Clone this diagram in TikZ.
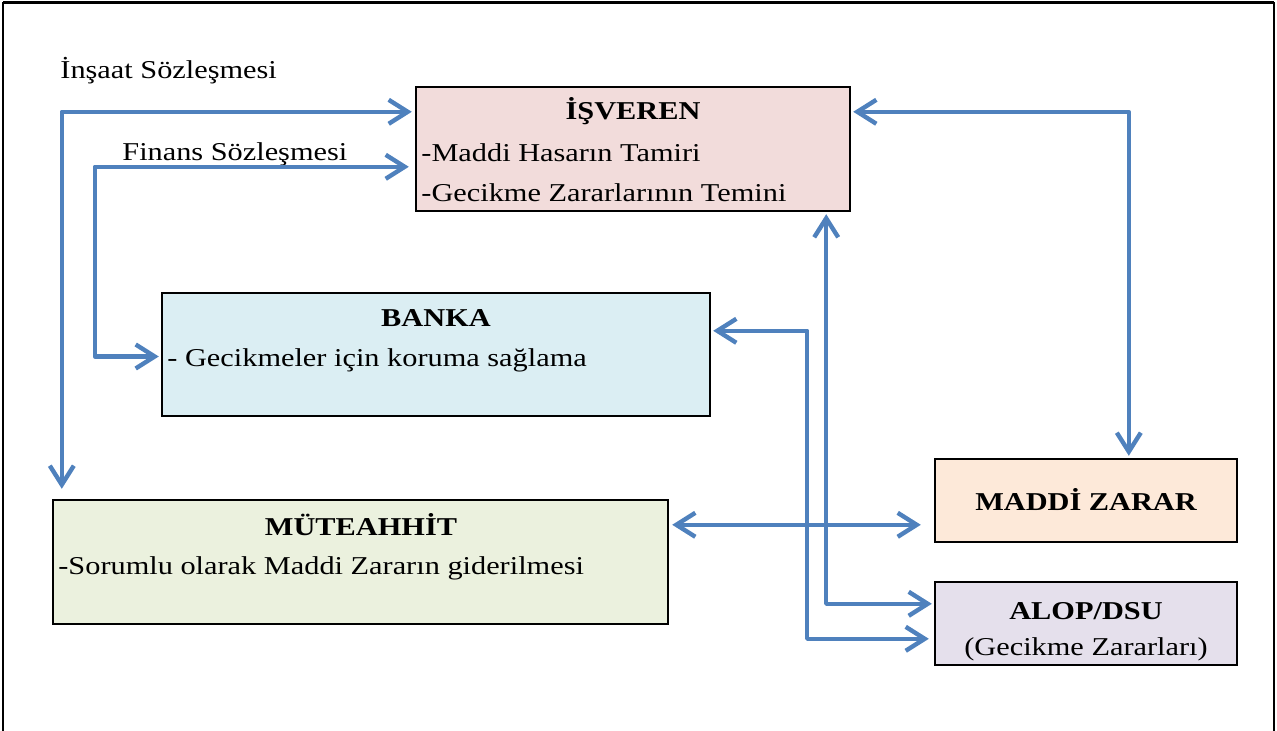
\documentclass[tikz,border=0pt]{standalone}
\usepackage{fontspec}
\setmainfont{Liberation Serif}[FakeStretch=1.18]
\usetikzlibrary{arrows.meta,calc}
\definecolor{flowblue}{HTML}{4F81BD}
\definecolor{isvfill}{HTML}{F2DCDB}
\definecolor{bankfill}{HTML}{DBEEF3}
\definecolor{mutfill}{HTML}{EBF1DE}
\definecolor{zararfill}{HTML}{FDE9D9}
\definecolor{alopfill}{HTML}{E5E0EC}
\begin{document}
\begin{tikzpicture}[x=0.5pt, y=-0.5pt,
        box/.style={draw, line width=1.2pt, inner sep=0pt},
        barb/.tip={Straight Barb[length=9.5pt, width=12pt]},
        flow/.style={flowblue, line width=2.2pt, line join=round, barb-barb},
        txt/.style={anchor=base west, inner sep=0pt, font=\fontsize{12.85}{15}\selectfont},
        ttl/.style={anchor=base, inner sep=0pt, font=\fontsize{12.85}{15}\selectfont\bfseries}]
    \useasboundingbox (0,0) rectangle (1277,731);
    \draw[line width=0.6pt] (3,731) -- (3,3) -- (1274,3) -- (1274,731);
    \draw[line width=1.5pt] (3,3) -- (1274,3);
    \node[box, fill=isvfill, minimum width=217pt, minimum height=62pt] (isveren) at (633,149) {};
    \node[box, fill=bankfill, minimum width=274pt, minimum height=61.5pt] (banka) at (436,354.5) {};
    \node[box, fill=mutfill, minimum width=307.5pt, minimum height=62pt] (muteahhit) at (360.5,562) {};
    \node[box, fill=zararfill, minimum width=151pt, minimum height=41.5pt] (zarar) at (1086,500.5) {};
    \node[box, fill=alopfill, minimum width=151pt, minimum height=41.5pt] (alop) at (1086,623.5) {};
    \node[ttl] (isvTitle) at (633,120) {İŞVEREN};
    \node[txt] (isvA) at (421,162) {-Maddi Hasarın Tamiri};
    \node[txt] (isvB) at (421,202) {-Gecikme Zararlarının Temini};
    \node[ttl] (bankTitle) at (436,327) {BANKA};
    \node[txt] (bankA) at (167,367) {- Gecikmeler için koruma sağlama};
    \node[ttl] (mutTitle) at (361,535) {MÜTEAHHİT};
    \node[txt] (mutA) at (58,574) {-Sorumlu olarak Maddi Zararın giderilmesi};
    \node[ttl] (zararTitle) at (1086,510) {MADDİ ZARAR};
    \node[ttl] (alopTitle) at (1086,619) {ALOP/DSU};
    \node[anchor=base, inner sep=0pt, font=\fontsize{12.85}{15}\selectfont] (alopA) at (1086,655) {(Gecikme Zararları)};
    \node[txt] (insaat) at (60,79) {İnşaat Sözleşmesi};
    \node[txt] (finans) at (122,161) {Finans Sözleşmesi};
    \draw[flow] ($(isveren.north west)+(-3,26)$) -| ($(muteahhit.north west)+(10,-10)$);
    \draw[flow] ($(isveren.north west)+(-6,81)$) -- ++(-314,0) |- ($(banka.west)+(-2,2)$);
    \draw[flow] ($(isveren.north east)+(2,26)$) -| ($(zarar.north west)+(195,-2)$);
    \draw[flow] ($(isveren.south east)+(-25,2)$) |- ($(alop.north west)+(-2,23)$);
    \draw[flow] ($(banka.north east)+(2,39)$) -- ++(94,0) |- ($(alop.north west)+(-5,58)$);
    \draw[flow] ($(muteahhit.north east)+(3,26)$) -- ($(zarar.west |- muteahhit.north east)+(-13,26)$);
\end{tikzpicture}
\end{document}
